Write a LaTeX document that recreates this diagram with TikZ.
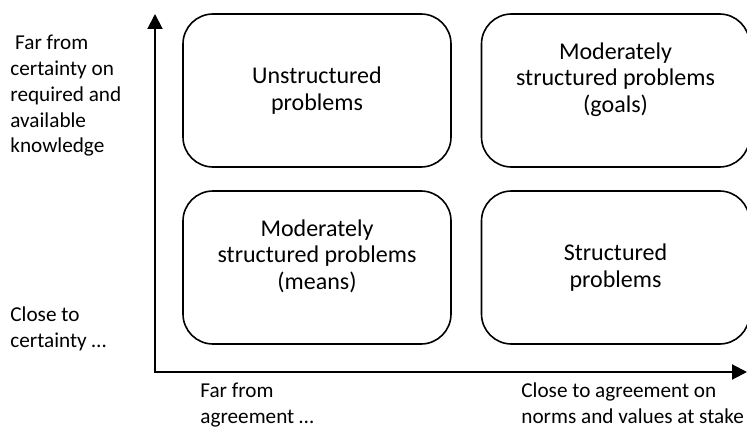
\documentclass[tikz,border=0pt]{standalone}
\usepackage{fontspec}
\setmainfont{Carlito}
\usetikzlibrary{arrows.meta}
\begin{document}
\begin{tikzpicture}[x=0.5pt, y=-0.5pt,
    font=\fontsize{12}{13.3}\selectfont,
    >={Triangle[length=7.5pt, width=7.5pt]},
    axis/.style={line width=1pt, <->},
    probbox/.style={draw, line width=0.8pt, rounded corners=15pt,
      minimum width=134pt, minimum height=76.5pt, align=center},
    tall/.style={text depth=13pt},
    axislabel/.style={anchor=base west, inner sep=0pt, align=left,
      font=\fontsize{10.6}{12.9}\selectfont}]
      \useasboundingbox (0,0) rectangle (747,427);

      \coordinate (origin) at (155,372);
      \coordinate (ytip) at (155,14);
      \coordinate (xtip) at (747,372);
      \draw[axis] (ytip) -- (origin) -- (xtip);

      \node[probbox] (unstr) at (317,90.5) {Unstructured\\problems};
      \node[probbox, tall] (goals) at (615.5,90.5)
        {Moderately\\structured problems\\(goals)};
      \node[probbox, tall] (means) at (317,267.5)
        {Moderately\\structured problems\\(means)};
      \node[probbox] (str) at (615.5,267.5) {Structured\\problems};

      \node[axislabel] (farcert) at (10,153)
        {\ Far from\\certainty on\\required and\\available\\knowledge};
      \node[axislabel] (closecert) at (10,347) {Close to\\certainty …};
      \node[axislabel] (faragree) at (200,423) {Far from\\agreement …};
      \node[axislabel] (closeagree) at (521,423)
        {Close to agreement on\\norms and values at stake};
    \end{tikzpicture}
\end{document}
